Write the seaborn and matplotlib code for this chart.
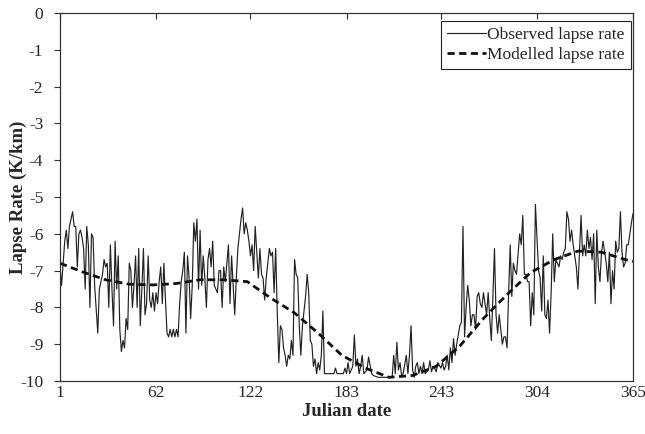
import matplotlib
matplotlib.use("Agg")
import matplotlib.pyplot as plt
import seaborn as sns
import pandas as pd

# ---- data ----
obs_day = [1, 2, 4, 5, 6, 7, 9, 10, 11, 12, 13, 14, 15, 16, 17, 18, 19, 20, 21, 22, 23, 25, 26, 28, 29, 30,
           31, 32, 33, 34, 35, 36, 37, 38, 39, 40, 41, 42, 43, 44, 45, 46, 47, 48, 49, 50, 51, 52, 53, 54, 55,
           56, 57, 58, 59, 60, 61, 62, 63, 64, 65, 66, 67, 68, 69, 70, 71, 72, 73, 74, 75, 76, 77, 78, 79, 80,
           81, 82, 83, 84, 85, 86, 87, 88, 89, 90, 91, 92, 93, 94, 95, 96, 97, 98, 99, 101, 102, 103, 104, 105,
           106, 107, 108, 109, 110, 112, 113, 114, 116, 117, 118, 119, 120, 121, 122, 123, 124, 125, 126, 127,
           128, 129, 130, 131, 132, 134, 135, 136, 137, 138, 139, 140, 141, 142, 143, 144, 145, 146, 147, 148,
           149, 150, 151, 152, 153, 154, 155, 157, 158, 159, 160, 161, 162, 163, 164, 165, 166, 167, 168, 169,
           170, 172, 174, 175, 176, 177, 179, 181, 182, 183, 184, 185, 187, 188, 189, 190, 191, 192, 193, 194,
           196, 197, 199, 200, 203, 205, 208, 212, 213, 214, 215, 216, 217, 218, 219, 221, 222, 223, 224, 225,
           226, 227, 228, 229, 230, 231, 232, 233, 235, 236, 237, 238, 239, 240, 241, 243, 244, 245, 246, 247,
           248, 249, 250, 251, 252, 253, 255, 256, 257, 258, 259, 260, 261, 262, 263, 264, 265, 266, 267, 268,
           269, 270, 271, 272, 273, 274, 275, 276, 277, 278, 279, 280, 281, 282, 283, 284, 285, 286, 287, 288,
           289, 290, 291, 293, 294, 295, 296, 297, 298, 299, 300, 301, 302, 303, 305, 306, 307, 308, 309, 310,
           311, 312, 313, 314, 315, 316, 318, 319, 320, 321, 322, 323, 324, 325, 326, 327, 329, 330, 331, 332,
           333, 334, 335, 336, 337, 338, 339, 340, 341, 342, 343, 344, 345, 346, 348, 349, 350, 351, 352, 353,
           354, 355, 356, 357, 358, 359, 360, 361, 362, 363, 364, 365]
obs_val = [-6.9, -7.4, -6.2, -5.9, -6.4, -5.8, -5.4, -5.8, -5.8, -6.9, -6.0, -5.9, -6.1, -6.4, -7.5, -5.8, -6.3,
           -8.0, -6.0, -6.1, -7.4, -8.7, -7.5, -7.1, -6.7, -6.9,
           -6.8, -8.0, -6.3, -7.5, -8.5, -6.2, -7.5, -6.6, -8.6, -9.2, -8.9, -9.1, -8.3, -8.6, -6.8, -7.0, -8.0,
           -7.4, -6.6, -8.0, -6.4, -8.5, -7.5, -6.4, -8.2,
           -7.9, -6.6, -7.8, -8.0, -7.6, -8.1, -7.6, -7.9, -7.3, -6.9, -7.9, -6.8, -7.8, -8.7, -8.8, -8.6, -8.8,
           -8.6, -8.8, -8.6, -8.8, -7.9, -7.3, -7.0, -6.5,
           -8.7, -6.6, -7.2, -8.3, -7.4, -5.7, -6.2, -5.6, -7.5, -5.9, -7.4, -6.6, -7.2, -8.0, -6.7, -6.4, -6.9,
           -6.2, -7.4, -7.6, -7.0, -7.0, -8.0, -6.9,
           -7.3, -6.8, -6.3, -7.9, -6.6, -8.2, -7.2, -6.4, -5.6, -5.3, -6.0, -5.7, -5.9, -6.2, -6.6, -6.3, -7.0,
           -5.8, -6.5, -7.2,
           -6.4, -7.1, -7.2, -7.8, -7.2, -6.4, -6.6, -6.5, -7.6, -6.4, -8.1, -9.5, -8.5, -8.6, -9.1, -9.3, -9.6,
           -9.3, -9.4, -8.9,
           -9.3, -6.7, -7.1, -7.2, -8.5, -9.3, -8.5, -7.7, -7.1, -7.6, -8.9, -9.0, -9.6, -9.4, -9.8, -9.5, -9.7,
           -9.3, -8.1, -9.8,
           -9.8, -9.8, -9.8, -9.8, -9.65, -9.8, -9.8, -9.8, -9.65, -9.8, -9.5, -9.8, -9.6, -8.75, -9.6, -9.4,
           -9.8, -9.6, -9.3, -9.8,
           -9.7, -9.35, -9.8, -9.85, -9.9, -9.9, -9.9, -9.9, -9.3, -9.8, -8.95, -9.7, -9.5, -9.85, -9.8, -9.3,
           -9.8, -9.3, -8.5, -9.7,
           -9.9, -9.6, -9.5, -9.8, -9.6, -9.8, -9.5, -9.8, -9.7, -9.45, -9.75, -9.6, -9.65, -9.75, -9.5, -9.65,
           -9.5, -9.7, -9.6, -9.3,
           -9.7, -9.1, -9.5, -8.85, -9.3, -9.0, -8.5, -8.4, -5.8, -8.8, -8.0, -7.4, -7.8, -8.5, -8.2, -8.2, -8.6,
           -7.7, -7.6, -7.9,
           -8.0, -7.6, -7.9, -8.2, -7.6, -8.3, -8.9, -7.7, -6.4, -8.2, -8.7, -8.2, -8.6, -9.0, -8.8, -8.8, -9.1,
           -7.6, -6.3, -7.7,
           -6.8, -7.0, -7.1, -6.0, -6.3, -5.5, -7.1, -7.1, -7.3, -7.3, -8.5, -7.6, -8.2, -5.2, -7.0, -7.2, -8.1,
           -6.6, -8.2, -8.3,
           -7.8, -8.7, -7.6, -6.0, -7.3, -6.7, -6.9, -6.6, -6.7, -6.5, -6.4, -5.4, -5.6, -6.2, -5.9, -6.3, -6.9,
           -7.5, -6.5, -5.5,
           -6.6, -6.3, -6.6, -5.9, -6.4, -6.1, -6.7, -6.0, -7.9, -5.9, -6.9, -7.3, -6.5, -6.2, -6.8, -7.3, -6.5,
           -7.9, -7.0, -7.5,
           -6.2, -6.5, -6.4, -5.4, -6.5, -6.9, -6.8, -6.3, -6.3, -6.0, -5.7, -5.45]

mod_day = [1, 15, 30, 45, 60, 75, 90, 105, 120, 135, 150, 165, 180, 195, 210, 225, 240, 255, 270, 285, 300,
           315, 330, 345, 360, 365]
mod_val = [-6.8, -7.03, -7.25, -7.37, -7.39, -7.35, -7.25, -7.25, -7.3, -7.75, -8.15, -8.7, -9.3, -9.65,
           -9.9, -9.85, -9.6, -9.05, -8.3, -7.65, -7.05, -6.7, -6.47, -6.5, -6.7, -6.75]

x_ticks = [1, 62, 122, 183, 243, 304, 365]
y_ticks = [0, -1, -2, -3, -4, -5, -6, -7, -8, -9, -10]

obs_df = pd.DataFrame({"day": obs_day, "rate": obs_val})
mod_df = pd.DataFrame({"day": mod_day, "rate": mod_val})

# ---- styling ----
sns.set_theme(style="white")
plt.rcParams["font.family"] = ["Liberation Serif", "DejaVu Serif"]
plt.rcParams["axes.unicode_minus"] = False

fig = plt.figure(figsize=(6.45, 4.34), dpi=100)
ax = fig.add_axes([60 / 645, 1 - 381 / 434, 573 / 645, 368 / 434])

sns.lineplot(data=obs_df, x="day", y="rate", ax=ax, color="#222222", linewidth=0.85,
             estimator=None, sort=False, label="Observed lapse rate")
sns.lineplot(data=mod_df, x="day", y="rate", ax=ax, color="#111111", linewidth=2.0,
             estimator=None, sort=False, label="Modelled lapse rate", dashes=False)
ax.lines[1].set_dashes((2.6, 1.6))

ax.set_xlim(1, 365)
ax.set_ylim(-10, 0)
ax.set_xticks(x_ticks)
ax.set_xticklabels([str(t) for t in x_ticks])
ax.set_yticks(y_ticks)
ax.set_yticklabels([str(t) for t in y_ticks])

ax.tick_params(axis="x", bottom=False, top=True, labelbottom=True, labeltop=False,
               direction="in", length=4, width=0.8, color="#333333", labelsize=12.5, pad=3)
ax.tick_params(axis="y", left=True, direction="out", length=4, width=0.8, color="#333333",
               labelsize=12.5, pad=8)
for s in ax.spines.values():
    s.set_visible(True)
    s.set_color("#333333")
    s.set_linewidth(0.9)

ax.set_xlabel("Julian date", fontsize=13.5, fontweight="bold")
ax.set_ylabel("Lapse Rate (K/km)", fontsize=13.5, fontweight="bold")
ax.xaxis.set_label_coords(0.5, (381 - 403) / 368)
ax.yaxis.set_label_coords((27 - 60) / 573, 0.5)

leg = ax.legend(loc="upper right", bbox_to_anchor=(631 / 645, 1 - 21 / 434),
                bbox_transform=fig.transFigure, fontsize=12.5, frameon=True, fancybox=False,
                edgecolor="#222222", framealpha=1, handlelength=2.2, handletextpad=0.1,
                borderpad=0.35, labelspacing=0.2, borderaxespad=0)
leg.get_frame().set_linewidth(0.8)

fig.savefig("out.png", dpi=100)
